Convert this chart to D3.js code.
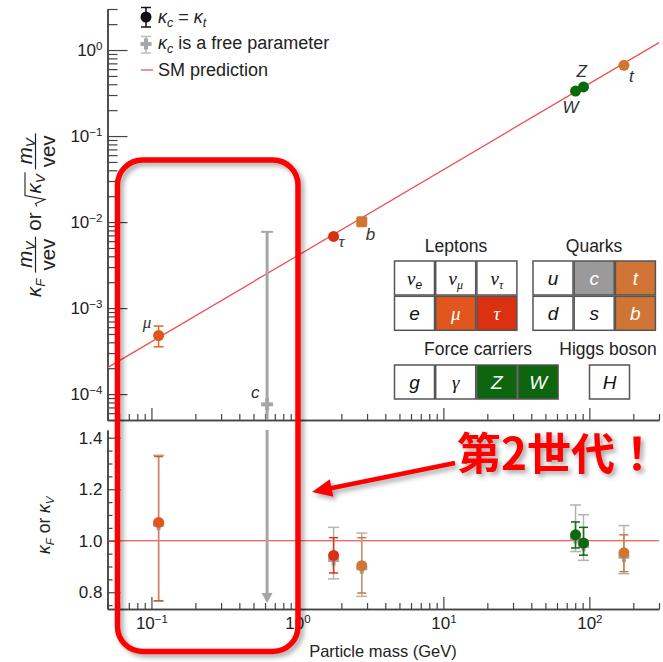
<!DOCTYPE html>
<html>
<head>
<meta charset="utf-8">
<script src="https://cdn.jsdelivr.net/npm/d3@7"></script>
<style>
  body { margin: 0; background: #fff; }
  svg { display: block; font-family: "Liberation Sans", Arial, Helvetica, sans-serif; }
</style>
</head>
<body>
<svg id="chart" width="663" height="662"></svg>
<script>
// ---- measured couplings (ATLAS+CMS style summary) ----
const names = ["μ", "τ", "b", "W", "Z", "t"];
const mass = [0.112, 1.77, 2.76, 80.4, 91.2, 172.5];           // GeV
// reduced coupling  κF·m/v  (fermions)  or  √κV·m/v  (bosons)
const reduced = [0.00048, 0.0068, 0.0101, 0.333, 0.372, 0.664];
const muReducedLo = 0.000355, muReducedHi = 0.000618;
// coupling modifiers, fit with κc = κt
const kappa   = [1.071, 0.943, 0.903, 1.023, 0.991, 0.953];
const kappaLo = [0.767, 0.875, 0.797, 0.972, 0.944, 0.880];
const kappaHi = [1.327, 1.012, 1.012, 1.073, 1.052, 1.023];
// coupling modifiers, fit with κc free
const kappaFree   = [1.062, 0.925, 0.893, 1.010, 0.980, 0.938];
const kappaFreeLo = [0.765, 0.852, 0.784, 0.958, 0.924, 0.872];
const kappaFreeHi = [1.332, 1.052, 1.030, 1.139, 1.101, 1.059];
// charm quark (κc free fit only)
const cMass = 0.62;
const cReduced = 7.6e-5, cReducedHi = 0.0077;
const cKappaRange = [0.758, 1.43];
// Standard Model expectation
const smMass = [0.05, 300];
const smReduced = [2.03e-4, 1.22];
const smKappa = 1.0;
// axis tick labels
const yTopMajor = [1e-4, 1e-3, 1e-2, 1e-1, 1];
const yBotMajor = [0.8, 1.0, 1.2, 1.4];
const xMajor = [0.1, 1, 10, 100];
// particle table
const leptonBase = ["ν", "ν", "ν", "e", "μ", "τ"];
const leptonSub  = ["e", "μ", "τ", "", "", ""];
const quarkBase  = ["u", "c", "t", "d", "s", "b"];
const forceBase  = ["g", "γ", "Z", "W"];
const higgsBase  = ["H"];

// ---- styling ----
const particleColor = { "μ": "#e0561c", "τ": "#d9300f", "b": "#cf7634", "t": "#cf7634", "W": "#0b6a0b", "Z": "#0b6a0b" };
const barOpacity = { "μ": 0.55, "τ": 0.9, "b": 0.55, "t": 0.85, "W": 0.9, "Z": 0.9 };
const cellFill = { "μ": "#e0561c", "τ": "#dc3110", "c": "#9a9a9a", "t": "#d07535", "b": "#d07535", "Z": "#0d650d", "W": "#0d650d" };
const grey = "#a6a6a6";
const axisColor = "#444";
const SANS = '"Liberation Sans", Arial, sans-serif';
const SERIF = '"Liberation Serif", "Times New Roman", serif';

const svg = d3.select("#chart");

const defs = svg.append("defs");
const shadowFilter = defs.append("filter").attr("id", "shadow").attr("x", "-20%").attr("y", "-20%").attr("width", "140%").attr("height", "140%");
shadowFilter.append("feDropShadow").attr("dx", 3).attr("dy", 3).attr("stdDeviation", 2.5)
  .attr("flood-color", "#000").attr("flood-opacity", 0.35);

// ---- scales ----
const x = d3.scaleLog().domain([0.05, 300]).range([107.5, 659]);
const yTop = d3.scaleLog().domain([5e-5, 3]).range([420, 9]);
const yBot = d3.scaleLinear().domain([0.735, 1.43]).range([609, 430]);

function supLabels(sel, fs) {
  sel.selectAll(".tick text").each(function (d) {
    const t = d3.select(this).text("");
    const e = Math.round(Math.log10(d));
    t.append("tspan").text("10");
    t.append("tspan").attr("dy", "-0.55em").style("font-size", (fs * 0.68) + "px")
      .text(String(e).replace("-", "−"));
  });
}
function styleAxis(g) {
  g.selectAll("path.domain").attr("stroke", axisColor).attr("stroke-width", 1.5);
  g.selectAll(".tick line").attr("stroke", axisColor).attr("stroke-width", 1.2);
  g.selectAll("text").attr("fill", "#222");
}

// ---- top panel axes ----
const topMinorY = yTop.ticks().filter(v => !yTopMajor.some(m => Math.abs(m - v) / m < 1e-6));
svg.append("g").attr("transform", "translate(107.5,0)")
  .call(d3.axisLeft(yTop).tickValues(topMinorY).tickSize(-10).tickSizeOuter(0).tickFormat(""))
  .call(styleAxis);
const gTopY = svg.append("g").attr("transform", "translate(107.5,0)")
  .call(d3.axisLeft(yTop).tickValues(yTopMajor).tickSize(-20).tickSizeOuter(0).tickPadding(5))
  .call(styleAxis);
gTopY.selectAll("text").style("font-size", "17px").style("font-family", SANS);
supLabels(gTopY, 17);

const xMinor = x.ticks().filter(v => !xMajor.some(m => Math.abs(m - v) / m < 1e-6));
svg.append("g").attr("transform", "translate(0,420)")
  .call(d3.axisBottom(x).tickValues(xMinor).tickSize(-6).tickSizeOuter(0).tickFormat(""))
  .call(styleAxis);
svg.append("g").attr("transform", "translate(0,420)")
  .call(d3.axisBottom(x).tickValues(xMajor).tickSize(-12).tickSizeOuter(0).tickFormat(""))
  .call(styleAxis);

// ---- bottom panel axes ----
const botMinorY = yBot.ticks(14).filter(v => !yBotMajor.some(m => Math.abs(m - v) < 1e-6));
svg.append("g").attr("transform", "translate(107.5,0)")
  .call(d3.axisLeft(yBot).tickValues(botMinorY).tickSize(-5).tickSizeOuter(0).tickFormat(""))
  .call(styleAxis);
const gBotY = svg.append("g").attr("transform", "translate(107.5,0)")
  .call(d3.axisLeft(yBot).tickValues(yBotMajor).tickSize(-13).tickSizeOuter(0).tickPadding(5).tickFormat(d3.format(".1f")))
  .call(styleAxis);
gBotY.selectAll("text").style("font-size", "17px").style("font-family", SANS);

svg.append("g").attr("transform", "translate(0,609)")
  .call(d3.axisBottom(x).tickValues(xMinor).tickSize(-6).tickSizeOuter(0).tickFormat(""))
  .call(styleAxis);
const gBotX = svg.append("g").attr("transform", "translate(0,609)")
  .call(d3.axisBottom(x).tickValues(xMajor).tickSize(-12).tickSizeOuter(0).tickPadding(8))
  .call(styleAxis);
gBotX.selectAll("text").style("font-size", "17px").style("font-family", SANS);
supLabels(gBotX, 17);

// axis titles
svg.append("text").attr("x", 383).attr("y", 657).attr("text-anchor", "middle")
  .style("font-size", "16.5px").attr("fill", "#222").text("Particle mass (GeV)");

// bottom y title: κF or κV
{
  const g = svg.append("g").attr("transform", "translate(50,554) rotate(-90)").attr("fill", "#222");
  const t = g.append("text").style("font-size", "17.5px");
  t.append("tspan").style("font-style", "italic").text("κ");
  t.append("tspan").style("font-style", "italic").style("font-size", "11.5px").attr("dy", 4).text("F");
  t.append("tspan").attr("dy", -4).text(" or ");
  t.append("tspan").style("font-style", "italic").text("κ");
  t.append("tspan").style("font-style", "italic").style("font-size", "11.5px").attr("dy", 4).text("V");
}

// top y title: κF mV/vev  or  √κV mV/vev
{
  const fs = 20.5;
  const g = svg.append("g").attr("transform", "translate(41,297) rotate(-90)").attr("fill", "#222");
  let u = 0;
  function word(str, opts = {}) {
    const t = g.append("text").attr("x", u).attr("y", opts.y || 0)
      .style("font-size", (opts.fs || fs) + "px").style("font-style", opts.italic ? "italic" : "normal")
      .text(str);
    const w = t.node().getComputedTextLength();
    u += w;
    return w;
  }
  function fraction() {
    const num = g.append("text").style("font-size", fs + "px");
    num.append("tspan").style("font-style", "italic").text("m");
    num.append("tspan").style("font-style", "italic").style("font-size", (fs * 0.65) + "px").attr("dy", 3).text("V");
    const den = g.append("text").style("font-size", fs + "px").text("vev");
    const wn = num.node().getComputedTextLength(), wd = den.node().getComputedTextLength();
    const w = Math.max(wn, wd) + 4;
    num.attr("x", u + (w - wn) / 2).attr("y", -9.5);
    den.attr("x", u + (w - wd) / 2).attr("y", 13.5);
    g.append("line").attr("x1", u).attr("x2", u + w).attr("y1", -5.5).attr("y2", -5.5)
      .attr("stroke", "#222").attr("stroke-width", 1.2);
    u += w;
  }
  word("κ", { italic: true });
  word("F", { italic: true, fs: fs * 0.65, y: 4 });
  u += 6;
  fraction();
  u += 6;
  word("or");
  u += 6;
  const r0 = u;
  u += 13;
  word("κ", { italic: true });
  word("V", { italic: true, fs: fs * 0.65, y: 4 });
  g.append("path")
    .attr("d", `M${r0},-4 L${r0 + 3},-5.5 L${r0 + 7},4 L${r0 + 11},-16 L${u + 2},-16`)
    .attr("fill", "none").attr("stroke", "#222").attr("stroke-width", 1.1);
  u += 5;
  fraction();
}

// ---- top panel marks ----
const topClip = defs.append("clipPath").attr("id", "topclip");
topClip.append("rect").attr("x", 107.5).attr("y", 8).attr("width", 552).attr("height", 412);

svg.append("line").attr("clip-path", "url(#topclip)")
  .attr("x1", x(smMass[0])).attr("y1", yTop(smReduced[0]))
  .attr("x2", x(smMass[1])).attr("y2", yTop(smReduced[1]))
  .attr("stroke", "#f05050").attr("stroke-width", 1.3);

function plus(g, cx, cy, color, size = 11, th = 3.5) {
  g.append("rect").attr("x", cx - size / 2).attr("y", cy - th / 2).attr("width", size).attr("height", th).attr("fill", color);
  g.append("rect").attr("x", cx - th / 2).attr("y", cy - size / 2).attr("width", th).attr("height", size).attr("fill", color);
}
function errBar(g, cx, y1, y2, color, capW, opacity = 1, sw = 1.5) {
  g.append("line").attr("x1", cx).attr("x2", cx).attr("y1", y1).attr("y2", y2)
    .attr("stroke", color).attr("stroke-width", sw).attr("stroke-opacity", opacity);
  [y1, y2].forEach(yy => g.append("line").attr("x1", cx - capW / 2).attr("x2", cx + capW / 2)
    .attr("y1", yy).attr("y2", yy).attr("stroke", color).attr("stroke-width", 1.5));
}

const topG = svg.append("g");
// charm: only the free-κc fit, upper limit band
{
  const cx = x(cMass);
  topG.append("line").attr("x1", cx).attr("x2", cx).attr("y1", yTop(cReducedHi)).attr("y2", yTop.range()[0])
    .attr("stroke", grey).attr("stroke-width", 3);
  topG.append("line").attr("x1", cx - 6).attr("x2", cx + 6).attr("y1", yTop(cReducedHi)).attr("y2", yTop(cReducedHi))
    .attr("stroke", grey).attr("stroke-width", 2);
  plus(topG, cx, yTop(cReduced), grey, 12, 4);
  topG.append("text").attr("x", cx - 16).attr("y", yTop(cReduced) - 6).style("font-style", "italic")
    .style("font-size", "17px").attr("fill", "#333").text("c");
}
// muon error bar
errBar(topG, x(mass[0]), yTop(muReducedHi), yTop(muReducedLo), "#e0662a", 10);

const labelOffset = { "μ": [-16, -8], "τ": [5, 11], "b": [4, 18], "W": [-13, 22], "Z": [-7, -10], "t": [5, 17] };
names.forEach((n, i) => {
  const cx = x(mass[i]), cy = yTop(reduced[i]);
  if (n === "b") {
    topG.append("rect").attr("x", cx - 5.5).attr("y", cy - 5.5).attr("width", 11).attr("height", 11).attr("rx", 2)
      .attr("fill", particleColor[n]);
  } else {
    topG.append("circle").attr("cx", cx).attr("cy", cy).attr("r", 5.5).attr("fill", particleColor[n]);
  }
  topG.append("text").attr("x", cx + labelOffset[n][0]).attr("y", cy + labelOffset[n][1])
    .style("font-style", "italic").style("font-size", "17px").attr("fill", "#333")
    .style("font-family", (n === "μ" || n === "τ") ? SERIF : SANS).text(n);
});

// ---- legend ----
{
  const lg = svg.append("g");
  errBar(lg, 146, 7.5, 27, "#111", 10, 1, 1.5);
  lg.append("circle").attr("cx", 146).attr("cy", 17).attr("r", 5.5).attr("fill", "#111");
  errBar(lg, 146, 36.5, 53, "#bdbdbd", 10, 1, 1.5);
  plus(lg, 146, 44, grey, 11, 4);
  lg.append("line").attr("x1", 141).attr("x2", 153).attr("y1", 70).attr("y2", 70)
    .attr("stroke", "#f06a6a").attr("stroke-width", 1.5);
  const t1 = lg.append("text").attr("x", 158).attr("y", 23).style("font-size", "18px").attr("fill", "#222");
  t1.append("tspan").style("font-style", "italic").text("κ");
  t1.append("tspan").style("font-style", "italic").style("font-size", "12.5px").attr("dy", 4).text("c");
  t1.append("tspan").attr("dy", -4).text(" = ");
  t1.append("tspan").style("font-style", "italic").text("κ");
  t1.append("tspan").style("font-style", "italic").style("font-size", "12.5px").attr("dy", 4).text("t");
  const t2 = lg.append("text").attr("x", 158).attr("y", 49).style("font-size", "18px").attr("fill", "#222");
  t2.append("tspan").style("font-style", "italic").text("κ");
  t2.append("tspan").style("font-style", "italic").style("font-size", "12.5px").attr("dy", 4).text("c");
  t2.append("tspan").attr("dy", -4).text(" is a free parameter");
  lg.append("text").attr("x", 158).attr("y", 76).style("font-size", "18px").attr("fill", "#222").text("SM prediction");
}

// ---- particle table ----
{
  const tb = svg.append("g");
  const stepX = 41.2, stepY = 35.3, cw = 40, ch = 34;
  function cell(base, sub, x0, y0) {
    const fill = sub === "" && cellFill[base] ? cellFill[base] : "#fff";
    tb.append("rect").attr("x", x0).attr("y", y0).attr("width", cw).attr("height", ch)
      .attr("fill", fill).attr("stroke", "#555").attr("stroke-width", 1.5);
    const greek = /[α-ω]/.test(base);
    const t = tb.append("text").attr("x", x0 + cw / 2).attr("y", y0 + ch / 2 + 6.5).attr("text-anchor", "middle")
      .style("font-size", "19px").style("font-style", "italic")
      .style("font-family", greek ? SERIF : SANS)
      .attr("fill", fill === "#fff" ? "#111" : "#fff");
    t.append("tspan").text(base);
    if (sub) t.append("tspan").attr("dy", 4).style("font-size", "12px")
      .style("font-family", /[α-ω]/.test(sub) ? SERIF : SANS).text(sub);
  }
  const groupTitle = (txt, cx, y) => tb.append("text").attr("x", cx).attr("y", y).attr("text-anchor", "middle")
    .style("font-size", "17.5px").attr("fill", "#222").text(txt);

  leptonBase.forEach((b, i) => cell(b, leptonSub[i], 394.5 + (i % 3) * stepX, 261 + Math.floor(i / 3) * stepY));
  quarkBase.forEach((b, i) => cell(b, "", 533 + (i % 3) * stepX, 261 + Math.floor(i / 3) * stepY));
  forceBase.forEach((b, i) => cell(b, "", 394.5 + i * stepX, 365));
  higgsBase.forEach((b, i) => cell(b, "", 589.5 + i * stepX, 365));
  groupTitle("Leptons", 456, 252);
  groupTitle("Quarks", 594, 252);
  groupTitle("Force carriers", 478, 355);
  groupTitle("Higgs boson", 608, 355);
}

// ---- bottom panel marks ----
const botG = svg.append("g");
botG.append("line").attr("x1", x.range()[0]).attr("x2", x.range()[1])
  .attr("y1", yBot(smKappa)).attr("y2", yBot(smKappa)).attr("stroke", "#ff2d2d").attr("stroke-width", 1.2);

// charm: unconstrained interval, open downward
{
  const cx = x(cMass);
  const yTip = yBot(cKappaRange[0]);
  botG.append("line").attr("x1", cx).attr("x2", cx).attr("y1", yBot(cKappaRange[1])).attr("y2", yTip - 8)
    .attr("stroke", grey).attr("stroke-width", 3);
  botG.append("path").attr("d", `M${cx - 5.5},${yTip - 10} L${cx + 5.5},${yTip - 10} L${cx},${yTip} Z`).attr("fill", grey);
}
names.forEach((n, i) => {
  const cx = x(mass[i]);
  errBar(botG, cx, yBot(kappaFreeHi[i]), yBot(kappaFreeLo[i]), "#b3b3b3", 11, 1, 1.5);
  plus(botG, cx, yBot(kappaFree[i]), grey, 11, 4);
});
names.forEach((n, i) => {
  const cx = x(mass[i]);
  errBar(botG, cx, yBot(kappaHi[i]), yBot(kappaLo[i]), particleColor[n], 9, barOpacity[n], 1.6);
  botG.append("circle").attr("cx", cx).attr("cy", yBot(kappa[i])).attr("r", 5.5).attr("fill", particleColor[n]);
});

// ---- highlight: second generation ----
{
  const hl = svg.append("g").attr("filter", "url(#shadow)");
  hl.append("rect").attr("x", 117.5).attr("y", 160).attr("width", 180.5).attr("height", 491.5).attr("rx", 25)
    .attr("fill", "none").attr("stroke", "#ff0000").attr("stroke-width", 5.5);
  const x1 = 455, y1 = 463, x2 = 312, y2 = 492;
  const L = Math.hypot(x2 - x1, y2 - y1), ux = (x2 - x1) / L, uy = (y2 - y1) / L;
  const hx = x2 - ux * 20, hy = y2 - uy * 20;
  hl.append("line").attr("x1", x1).attr("y1", y1).attr("x2", hx + ux * 2).attr("y2", hy + uy * 2)
    .attr("stroke", "#ff0000").attr("stroke-width", 4.5);
  hl.append("path").attr("d", `M${x2},${y2} L${hx - uy * 9},${hy + ux * 9} L${hx + uy * 9},${hy - ux * 9} Z`)
    .attr("fill", "#ff0000");
  hl.append("text").attr("x", 457).attr("y", 470)
    .style("font-family", '"Noto Sans CJK JP", "Noto Sans CJK SC", sans-serif')
    .style("font-weight", 700).style("font-size", "44px").attr("fill", "#ff0000").text("第2世代！");
}
</script>
</body>
</html>
